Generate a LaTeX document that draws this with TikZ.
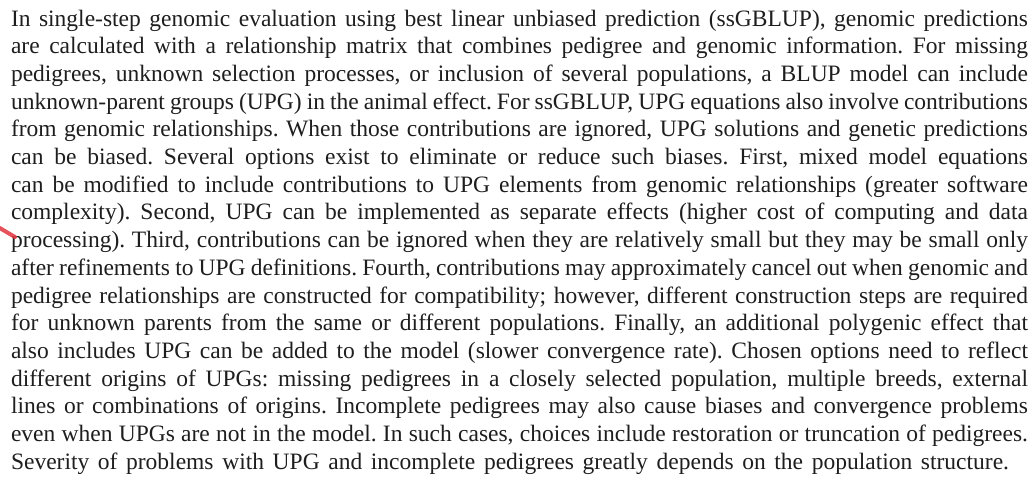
\documentclass[tikz,border=0pt]{standalone}
\usepackage{fontspec}
\setmainfont{Liberation Serif}
\usetikzlibrary{calc}

\definecolor{inkgray}{RGB}{30,30,30}
\definecolor{penred}{RGB}{226,52,64}

\tikzset{
  txtline/.style={anchor=base west, inner sep=0pt, outer sep=0pt, text=inkgray,
    font=\fontsize{23.5}{28}\selectfont},
}
\newcommand{\jline}[1]{\makebox[1017pt][s]{#1}}

\begin{document}
\frenchspacing
\begin{tikzpicture}[x=1pt, y=-1pt]
  \useasboundingbox[fill=white] (0,0) rectangle (1032,480);
  % the paragraph, one justified line per node
  \node[txtline] (l1)  at (11,26.0)  {\jline{In single-step genomic evaluation using best linear unbiased prediction (ssGBLUP), genomic predictions}};
  \node[txtline] (l2)  at (11,53.7)  {\jline{are calculated with a relationship matrix that combines pedigree and genomic information. For missing}};
  \node[txtline] (l3)  at (11,81.4)  {\jline{pedigrees, unknown selection processes, or inclusion of several populations, a BLUP model can include}};
  \node[txtline] (l4)  at (11,109.1) {\jline{unknown-parent groups (UPG) in the animal effect. For ssGBLUP, UPG equations also involve contributions}};
  \node[txtline] (l5)  at (11,136.8) {\jline{from genomic relationships. When those contributions are ignored, UPG solutions and genetic predictions}};
  \node[txtline] (l6)  at (11,164.5) {\jline{can be biased. Several options exist to eliminate or reduce such biases. First, mixed model equations}};
  \node[txtline] (l7)  at (11,192.2) {\jline{can be modified to include contributions to UPG elements from genomic relationships (greater software}};
  \node[txtline] (l8)  at (11,219.9) {\jline{complexity). Second, UPG can be implemented as separate effects (higher cost of computing and data}};
  \node[txtline] (l9)  at (11,247.6) {\jline{processing). Third, contributions can be ignored when they are relatively small but they may be small only}};
  \node[txtline] (l10) at (11,275.3) {\jline{after refinements to UPG definitions. Fourth, contributions may approximately cancel out when genomic and}};
  \node[txtline] (l11) at (11,303.0) {\jline{pedigree relationships are constructed for compatibility; however, different construction steps are required}};
  \node[txtline] (l12) at (11,330.7) {\jline{for unknown parents from the same or different populations. Finally, an additional polygenic effect that}};
  \node[txtline] (l13) at (11,358.4) {\jline{also includes UPG can be added to the model (slower convergence rate). Chosen options need to reflect}};
  \node[txtline] (l14) at (11,386.1) {\jline{different origins of UPGs: missing pedigrees in a closely selected population, multiple breeds, external}};
  \node[txtline] (l15) at (11,413.8) {\jline{lines or combinations of origins. Incomplete pedigrees may also cause biases and convergence problems}};
  \node[txtline] (l16) at (11,441.5) {\jline{even when UPGs are not in the model. In such cases, choices include restoration or truncation of pedigrees.}};
  \node[txtline] (l17) at (11,469.2) {\makebox[998pt][s]{Severity of problems with UPG and incomplete pedigrees greatly depends on the population structure.}};
  % red pen mark in the margin
  \draw[penred, opacity=0.85, line width=4pt, line cap=round] (-2,227) -- (15,237);
\end{tikzpicture}
\end{document}
